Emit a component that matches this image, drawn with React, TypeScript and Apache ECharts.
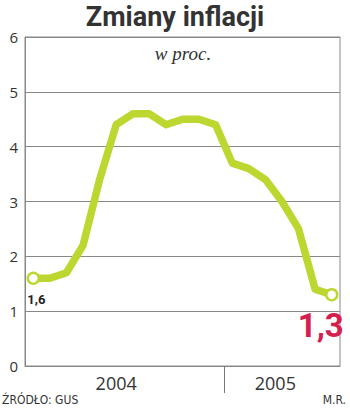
import React, { useEffect, useRef } from "react";
import * as echarts from "echarts";

const months = ["I","II","III","IV","V","VI","VII","VIII","IX","X","XI","XII","I","II","III","IV","V","VI","VII"];
const inflation = [1.6,1.6,1.7,2.2,3.4,4.4,4.6,4.6,4.4,4.5,4.5,4.4,3.7,3.6,3.4,3.0,2.5,1.4,1.3];
const yearLabelPositions = [5.5, 15.1];
const yearLabels = ["2004", "2005"];
const yearBoundary = [12];

export default function App() {
  const ref = useRef<HTMLDivElement>(null);
  useEffect(() => {
    if (!ref.current) return;
    const chart = echarts.init(ref.current, null, { renderer: "svg" });
    const green = "#BDD630";
    const last = inflation.length - 1;
    const data = inflation.map((v, i) => {
      if (i === 0) {
        return {
          value: v, symbol: "circle",
          label: { show: true, position: "bottom", distance: 8, formatter: "1,6",
            color: "#222", fontSize: 13, fontWeight: "bold", fontFamily: "Roboto", offset: [3, 0] },
        };
      }
      if (i === last) {
        return {
          value: v, symbol: "circle",
          label: { show: true, position: "bottom", distance: 8, formatter: "1,3",
            color: "#D4204E", fontSize: 33, fontWeight: "bold", fontFamily: "Roboto", offset: [-11, 0] },
        };
      }
      return { value: v, symbol: "none" };
    });
    chart.setOption({
      animation: false,
      title: [
        { text: "Zmiany inflacji", left: "center", top: -2,
          textStyle: { fontSize: 27, fontWeight: "bold", color: "#333", fontFamily: "Roboto" } },
        { text: "w proc.", left: 178, top: 39, textAlign: "center",
          textStyle: { fontSize: 19, fontStyle: "italic", fontWeight: "normal", color: "#333", fontFamily: "Liberation Serif" } },
      ],
      graphic: [
        { type: "text", left: 2, top: 394, style: { text: "ŹRÓDŁO: GUS", fontSize: 12, fill: "#333", fontFamily: "DejaVu Sans Condensed" } },
        { type: "text", right: 4, top: 394, style: { text: "M.R.", fontSize: 12, fill: "#333", fontFamily: "DejaVu Sans Condensed" } },
      ],
      grid: { left: 25, right: 10, top: 37, bottom: 42, show: true, borderColor: "#888", borderWidth: 1 },
      xAxis: [
        {
          type: "category",
          data: months,
          boundaryGap: true,
          axisLine: { lineStyle: { color: "#888", width: 1 } },
          axisTick: { show: false },
          axisLabel: { show: false },
        },
        {
          type: "value",
          position: "bottom",
          min: 0, max: months.length,
          axisLine: { show: false },
          splitLine: { show: false },
          axisTick: { show: true, length: 27, customValues: yearBoundary, lineStyle: { color: "#777" } },
          axisLabel: {
            customValues: yearLabelPositions,
            formatter: (v: number) => yearLabels[yearLabelPositions.indexOf(v)] ?? "",
            fontSize: 18, color: "#333", margin: 8, fontFamily: "Open Sans",
          },
        },
      ],
      yAxis: {
        type: "value", min: 0, max: 6, interval: 1,
        axisLine: { show: true, lineStyle: { color: "#888" } },
        axisTick: { show: false },
        splitLine: { lineStyle: { color: "#888", width: 1 } },
        axisLabel: { fontSize: 15, color: "#333", margin: 7, fontFamily: "Open Sans" },
      },
      series: [{
        type: "line",
        xAxisIndex: 0,
        data,
        symbolSize: 11,
        itemStyle: { color: "#fff", borderColor: green, borderWidth: 2.5 },
        lineStyle: { color: green, width: 7.5, join: "round", cap: "round" },
      }],
    });
    return () => chart.dispose();
  }, []);
  return <div ref={ref} style={{ width: 350, height: 408, position: "absolute", left: 0, top: 0 }} />;
}
